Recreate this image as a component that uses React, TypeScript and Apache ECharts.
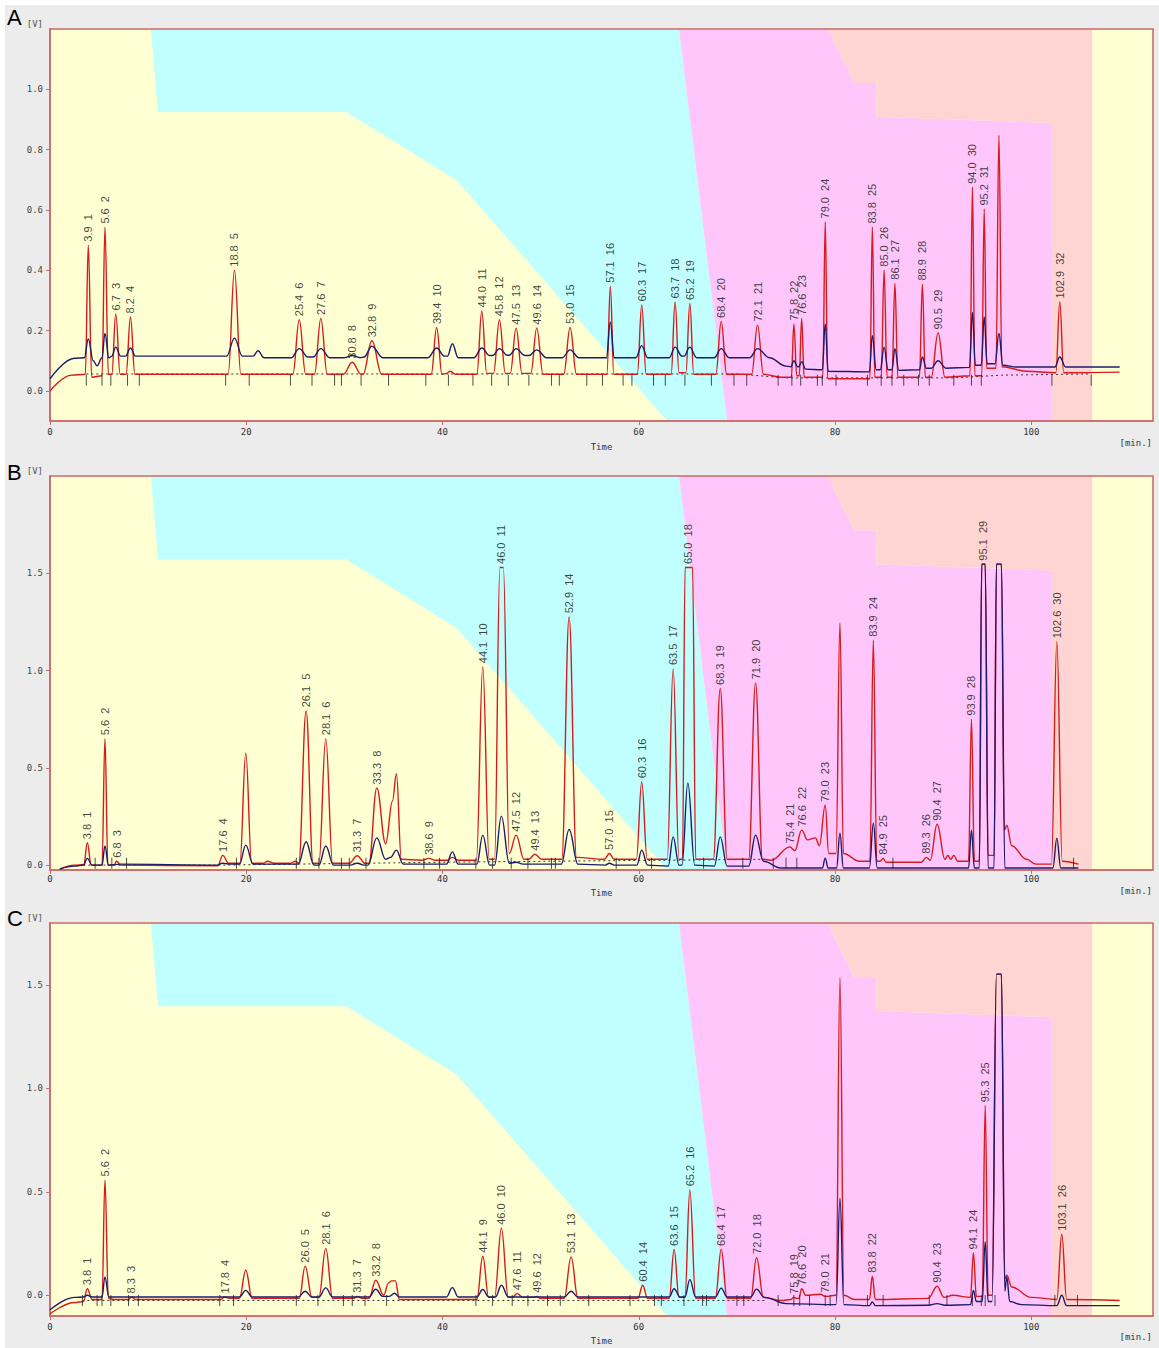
import React, { useEffect, useRef } from "react";
import * as echarts from "echarts";

// ---------- axes ----------
const X_MAX = 112.4;
const X_TICKS = [0, 20, 40, 60, 80, 100];
const Y_TICKS_A = [0, 0.2, 0.4, 0.6, 0.8, 1.0];
const Y_TICKS_B = [0, 0.5, 1.0, 1.5];
const Y_TICKS_C = [0, 0.5, 1.0, 1.5];
const Y_RANGE_A = [-0.1, 1.2];
const Y_RANGE_B = [-0.025, 2.0];
const Y_RANGE_C = [-0.1, 1.8];
const LETTERS = ["A", "B", "C"];

// ---------- gradient program background (minutes, fraction of plot height) ----------
const BG_YELLOW = [[0, 1], [112.4, 1], [112.4, 0], [0, 0]];
const BG_CYAN = [[10.28, 1], [11.0, 0.788], [30.2, 0.788], [41.4, 0.615], [62.9, 0], [69.0, 0], [64.1, 1]];
const BG_MAGENTA = [[64.1, 1], [69.0, 0], [102.1, 0], [102.1, 0.76], [84.2, 0.776], [84.2, 0.862], [81.95, 0.862], [79.2, 1]];
const BG_SALMON = [[79.2, 1], [81.95, 0.862], [84.2, 0.862], [84.2, 0.776], [102.1, 0.76], [102.1, 0], [106.2, 0], [106.2, 1]];

// ---------- panel A ----------
const RED_A = [
  [0, 0], [2.2, 0.052], [3.6, 0.055], [3.9, 0.483], [4.25, 0.045], [5.3, 0.05], [5.6, 0.543], [5.95, 0.055], [6.3, 0.055], [6.7, 0.255], [7.15, 0.055], [7.75, 0.055], [8.2, 0.245], [8.65, 0.055],
  [18.15, 0.055], [18.8, 0.4], [19.45, 0.055],
  [24.75, 0.055], [25.4, 0.236], [26.05, 0.055], [26.95, 0.055], [27.6, 0.24], [28.25, 0.055],
  [29.9, 0.055], [30.8, 0.095], [31.7, 0.055], [31.9, 0.055], [32.8, 0.166], [33.8, 0.055],
  [38.85, 0.055], [39.4, 0.21], [39.95, 0.055], [40.4, 0.058], [40.8, 0.065], [41.3, 0.055],
  [43.5, 0.055], [44.0, 0.265], [44.5, 0.058], [45.2, 0.058], [45.8, 0.236], [46.4, 0.058], [46.9, 0.058], [47.5, 0.208], [48.1, 0.058], [49.0, 0.058], [49.6, 0.208], [50.25, 0.055],
  [52.35, 0.055], [53.0, 0.21], [53.65, 0.055],
  [56.75, 0.055], [57.1, 0.347], [57.45, 0.055],
  [59.85, 0.055], [60.3, 0.285], [60.75, 0.055],
  [63.3, 0.055], [63.7, 0.295], [64.1, 0.06], [64.8, 0.06], [65.2, 0.29], [65.6, 0.055],
  [67.85, 0.055], [68.4, 0.23], [68.95, 0.055],
  [71.5, 0.055], [72.1, 0.218], [72.7, 0.055], [74.5, 0.045],
  [75.55, 0.045], [75.8, 0.222], [76.1, 0.05], [76.35, 0.05], [76.6, 0.24], [76.85, 0.045],
  [78.75, 0.045], [79.0, 0.56], [79.25, 0.04],
  [83.55, 0.04], [83.8, 0.543], [84.05, 0.045], [84.7, 0.045], [85.0, 0.40], [85.3, 0.045], [85.8, 0.045], [86.1, 0.357], [86.4, 0.045],
  [88.6, 0.045], [88.9, 0.354], [89.2, 0.045], [89.8, 0.045], [90.5, 0.192], [91.2, 0.045],
  [93.75, 0.05], [94.0, 0.675], [94.25, 0.05], [94.95, 0.05], [95.2, 0.603], [95.45, 0.075], [96.4, 0.075], [96.7, 0.848], [97.0, 0.08], [99.5, 0.065],
  [102.5, 0.06], [102.9, 0.295], [103.3, 0.06], [109.0, 0.062],
];
const BLUE_A = [
  [0, 0.04], [2.5, 0.108], [3.5, 0.11], [3.9, 0.172], [4.4, 0.1], [4.8, 0.083], [5.3, 0.11], [5.6, 0.19], [6.0, 0.11], [6.3, 0.115], [6.7, 0.145], [7.2, 0.115], [7.7, 0.115], [8.2, 0.142], [8.7, 0.115],
  [18.0, 0.115], [18.8, 0.175], [19.6, 0.115], [20.7, 0.115], [21.2, 0.133], [21.8, 0.11],
  [24.6, 0.11], [25.4, 0.14], [26.3, 0.112], [26.8, 0.112], [27.6, 0.14], [28.5, 0.11],
  [30.0, 0.11], [30.8, 0.117], [31.6, 0.11], [32.0, 0.112], [32.8, 0.148], [33.9, 0.11],
  [38.5, 0.11], [39.4, 0.142], [40.2, 0.115], [40.5, 0.115], [41.0, 0.156], [41.6, 0.11],
  [43.2, 0.11], [44.0, 0.142], [44.8, 0.117], [45.1, 0.117], [45.8, 0.14], [46.6, 0.118], [46.8, 0.118], [47.5, 0.14], [48.4, 0.117], [48.8, 0.117], [49.6, 0.136], [50.6, 0.11],
  [52.2, 0.11], [53.0, 0.136], [53.9, 0.11],
  [56.7, 0.11], [57.1, 0.228], [57.5, 0.11],
  [59.7, 0.11], [60.3, 0.15], [60.9, 0.11],
  [63.1, 0.11], [63.7, 0.145], [64.4, 0.115], [64.6, 0.115], [65.2, 0.145], [65.9, 0.11],
  [67.7, 0.11], [68.4, 0.14], [69.2, 0.11],
  [71.3, 0.11], [72.1, 0.14], [73.3, 0.11], [75.0, 0.082],
  [75.5, 0.08], [75.8, 0.1], [76.2, 0.08], [76.3, 0.08], [76.6, 0.097], [77.0, 0.072],
  [78.7, 0.07], [79.0, 0.222], [79.3, 0.065],
  [83.5, 0.063], [83.8, 0.183], [84.2, 0.07], [84.6, 0.07], [85.0, 0.145], [85.4, 0.07], [85.8, 0.07], [86.1, 0.14], [86.5, 0.068],
  [88.6, 0.07], [88.9, 0.112], [89.3, 0.075], [89.8, 0.075], [90.5, 0.1], [91.3, 0.075],
  [93.7, 0.078], [94.0, 0.26], [94.3, 0.085], [94.9, 0.085], [95.2, 0.245], [95.5, 0.09], [96.3, 0.09], [96.7, 0.19], [97.1, 0.085], [98.5, 0.079],
  [102.4, 0.079], [102.9, 0.112], [103.5, 0.079], [109.0, 0.079],
];
const DOT_A = [[3.7, 0.056], [70, 0.056], [75, 0.043], [92, 0.043], [97, 0.052], [106, 0.056]];
const TICK_T_A = [3.7, 5.3, 6.2, 7.9, 9.1, 17.9, 20.3, 24.5, 26.7, 29.0, 29.7, 31.7, 34.5, 38.3, 40.6, 43.1, 45.0, 46.7, 48.8, 51.1, 51.9, 54.7, 56.3, 58.4, 59.3, 61.5, 62.7, 64.7, 67.4, 69.7, 71.0, 74.2, 75.6, 76.5, 78.2, 78.7, 80.1, 83.3, 84.7, 85.8, 87.0, 88.5, 89.6, 92.1, 93.9, 94.9, 102.1, 106.1];
const TICK_LEVEL_A = 0.035;
const PEAK_T_A = [3.9, 5.6, 6.7, 8.2, 18.8, 25.4, 27.6, 30.8, 32.8, 39.4, 44.0, 45.8, 47.5, 49.6, 53.0, 57.1, 60.3, 63.7, 65.2, 68.4, 72.1, 75.8, 76.6, 79.0, 83.8, 85.0, 86.1, 88.9, 90.5, 94.0, 95.2, 102.9];

// ---------- panel B ----------
const RED_B = [
  [1.0, -0.02], [2.5, 0.0], [3.45, 0.003], [3.8, 0.115], [4.2, 0.0], [5.3, 0.0], [5.6, 0.65], [5.9, 0.0], [6.5, 0.0], [6.8, 0.02], [7.2, 0.0],
  [17.1, -0.003], [17.6, 0.05], [18.2, 0.01], [19.35, 0.01], [19.95, 0.575], [20.55, 0.01], [21.7, 0.01], [22.2, 0.02], [22.8, 0.01], [24.5, 0.01], [25.0, 0.02], [25.35, 0.01], [26.1, 0.793], [26.8, 0.01], [27.4, 0.01], [28.1, 0.65], [28.8, 0.01],
  [30.5, 0.01], [31.3, 0.048], [32.1, 0.01], [32.5, 0.01], [33.3, 0.397], [34.2, 0.11], [34.9, 0.33], [35.3, 0.47], [35.8, 0.03],
  [37.9, 0.025], [38.6, 0.035], [39.3, 0.025], [40.5, 0.025], [41.0, 0.04], [41.6, 0.025],
  [43.45, 0.025], [44.1, 1.02], [44.75, 0.03], [45.3, 0.03], [45.85, 1.53], [46.2, 1.53], [46.8, 0.06], [47.5, 0.154], [48.3, 0.03], [48.8, 0.03], [49.4, 0.056], [50.1, 0.03],
  [52.15, 0.03], [52.9, 1.276], [53.65, 0.04], [56.5, 0.03], [57.0, 0.06], [57.5, 0.03],
  [59.75, 0.03], [60.3, 0.428], [60.85, 0.03], [62.9, 0.03], [63.5, 1.01], [64.1, 0.03], [64.45, 0.03], [64.72, 1.53], [65.48, 1.53], [65.8, 0.03],
  [67.6, 0.03], [68.3, 0.908], [69.0, 0.03], [71.2, 0.03], [71.9, 0.937], [72.6, 0.03], [73.5, 0.025],
  [75.4, 0.094], [75.9, 0.075], [76.6, 0.18], [77.2, 0.13], [78.0, 0.14], [78.4, 0.1], [79.0, 0.308], [79.35, 0.06], [80.1, 0.06], [80.5, 1.245], [80.85, 0.06], [82.5, 0.02],
  [83.55, 0.02], [83.9, 1.156], [84.25, 0.02], [84.6, 0.02], [84.9, 0.035], [85.2, 0.015],
  [88.8, 0.015], [89.3, 0.04], [89.7, 0.025], [90.4, 0.21], [91.2, 0.03], [91.5, 0.05], [91.8, 0.03], [92.1, 0.05], [92.5, 0.02],
  [93.6, 0.02], [93.9, 0.75], [94.2, 0.02], [94.7, 0.02], [94.95, 1.547], [95.3, 1.547], [95.6, 0.05], [96.2, 0.05], [96.45, 1.547], [96.95, 1.547], [97.25, 0.18], [97.5, 0.205], [98.0, 0.1], [99.5, 0.03], [100.5, 0.005],
  [102.05, 0.005], [102.6, 1.148], [103.15, 0.02], [104.8, 0.005],
];
const BLUE_B = [
  [1.0, -0.02], [2.5, -0.005], [3.4, 0.0], [3.8, 0.035], [4.3, 0.0], [5.3, 0.0], [5.6, 0.098], [5.95, 0.0], [7.2, 0.005],
  [17.0, 0.0], [17.6, 0.01], [18.3, 0.005], [19.3, 0.005], [19.95, 0.103], [20.7, 0.005],
  [25.3, 0.005], [26.1, 0.12], [26.9, 0.0], [27.4, 0.0], [28.1, 0.098], [28.9, 0.0],
  [30.6, 0.0], [31.3, 0.01], [32.0, 0.0], [32.4, 0.0], [33.3, 0.14], [34.2, 0.03], [34.7, 0.04], [35.3, 0.077], [36.0, 0.005],
  [40.4, 0.005], [41.0, 0.068], [41.6, 0.005],
  [43.5, 0.005], [44.1, 0.154], [44.8, 0.0], [45.3, 0.0], [46.0, 0.252], [46.8, 0.01], [47.5, 0.015], [48.2, 0.005],
  [52.1, 0.005], [52.9, 0.183], [53.8, 0.005], [56.6, 0.0], [57.0, 0.01], [57.5, 0.0],
  [59.8, 0.0], [60.3, 0.077], [60.9, 0.0], [63.0, -0.005], [63.5, 0.145], [64.1, 0.0], [64.4, 0.0], [65.0, 0.423], [65.7, 0.0],
  [67.7, -0.005], [68.3, 0.145], [69.0, -0.005], [71.2, -0.005], [71.9, 0.154], [72.7, 0.02], [74.5, -0.015],
  [78.7, -0.015], [79.0, 0.036], [79.3, -0.015], [80.15, -0.015], [80.5, 0.164], [80.85, -0.015],
  [83.5, -0.015], [83.9, 0.216], [84.3, -0.015],
  [93.6, -0.015], [93.9, 0.18], [94.2, -0.015], [94.7, -0.015], [94.95, 1.547], [95.3, 1.547], [95.6, -0.015], [96.2, -0.015], [96.45, 1.547], [96.95, 1.547], [97.3, -0.015],
  [102.2, -0.015], [102.6, 0.139], [103.0, -0.015], [104.8, -0.015],
];
const DOT_B = [[3.4, 0.0], [17, 0.0], [40, 0.015], [73, 0.03]];
const TICK_T_B = [4.6, 6.3, 7.8, 19.0, 25.1, 27.4, 29.7, 30.5, 32.2, 38.1, 39.7, 43.4, 45.1, 47.0, 48.7, 51.1, 51.5, 57.7, 61.3, 66.6, 70.6, 73.7, 75.0, 76.1, 85.9, 104.3];
const TICK_LEVEL_B = 0.01;
const PEAK_T_B = [3.8, 5.6, 6.8, 17.6, 26.1, 28.1, 31.3, 33.3, 38.6, 44.1, 46.0, 47.5, 49.4, 52.9, 57.0, 60.3, 63.5, 65.0, 68.3, 71.9, 75.4, 76.6, 79.0, 83.9, 84.9, 89.3, 90.4, 93.9, 95.1, 102.6];

// ---------- panel C ----------
const RED_C = [
  [0, -0.09], [2.5, -0.035], [3.4, -0.03], [3.8, 0.032], [4.3, -0.02], [5.3, -0.02], [5.6, 0.558], [5.95, -0.015], [6.5, -0.02], [8.0, -0.02], [8.3, -0.008], [8.7, -0.02],
  [17.4, -0.02], [17.8, -0.008], [18.3, -0.015], [19.3, -0.015], [19.95, 0.121], [20.6, -0.015], [25.4, -0.015], [26.0, 0.141], [26.7, -0.01], [27.4, -0.01], [28.1, 0.227], [28.8, -0.015],
  [30.9, -0.015], [31.3, -0.005], [31.8, -0.015], [32.5, -0.015], [33.2, 0.073], [34.0, 0.0], [34.5, 0.06], [34.8, 0.07], [35.2, 0.07], [35.6, -0.02],
  [43.5, -0.02], [44.1, 0.189], [44.7, -0.01], [45.3, -0.01], [46.0, 0.324], [46.7, -0.01], [47.1, -0.01], [47.6, 0.008], [48.2, -0.01], [49.3, -0.01], [49.6, -0.005], [50.0, -0.015],
  [52.4, -0.015], [53.1, 0.186], [53.8, -0.015], [59.9, -0.015], [60.4, 0.049], [60.9, -0.015],
  [63.1, -0.015], [63.6, 0.222], [64.1, -0.01], [64.7, -0.01], [65.2, 0.51], [65.8, -0.015],
  [67.8, -0.015], [68.4, 0.222], [69.0, -0.015], [71.4, -0.015], [72.0, 0.183], [72.7, -0.01], [74.5, -0.025],
  [75.5, -0.02], [75.8, -0.01], [76.1, -0.015], [76.3, -0.015], [76.6, 0.032], [77.0, 0.0], [78.5, 0.005], [79.0, -0.005], [80.1, 0.0], [80.5, 1.537], [80.9, 0.0], [82.0, -0.02],
  [83.5, -0.02], [83.8, 0.092], [84.1, -0.02],
  [89.5, -0.015], [90.4, 0.044], [91.1, -0.01], [92.0, 0.0], [93.8, -0.01], [94.1, 0.205], [94.4, -0.005], [95.0, -0.005], [95.3, 0.917], [95.6, 0.0], [96.0, 0.0], [96.45, 1.553], [96.95, 1.553], [97.3, 0.08], [97.5, 0.097], [98.0, 0.04], [100.0, -0.01],
  [102.6, -0.02], [103.1, 0.295], [103.6, -0.02], [109.0, -0.025],
];
const BLUE_C = [
  [0, -0.07], [2.5, -0.01], [3.4, -0.008], [3.8, 0.0], [4.3, -0.008], [5.3, -0.008], [5.6, 0.089], [6.0, -0.008],
  [19.3, -0.008], [19.95, 0.024], [20.6, -0.008], [25.3, -0.008], [26.0, 0.02], [26.7, -0.008], [27.4, -0.008], [28.1, 0.036], [28.8, -0.008],
  [32.5, -0.008], [33.2, 0.029], [33.9, -0.005], [34.6, -0.005], [35.1, 0.01], [35.6, -0.008],
  [40.4, -0.008], [41.0, 0.037], [41.6, -0.008], [43.5, -0.008], [44.1, 0.028], [44.7, -0.008], [45.4, -0.008], [46.0, 0.049], [46.7, -0.008],
  [52.4, -0.008], [53.1, 0.02], [53.8, -0.008],
  [63.1, -0.008], [63.6, 0.032], [64.2, -0.008], [64.7, -0.008], [65.2, 0.076], [65.8, -0.008],
  [67.8, -0.008], [68.4, 0.035], [69.0, -0.008], [71.4, -0.008], [72.0, 0.03], [72.8, -0.01], [75.0, -0.04],
  [80.1, -0.045], [80.5, 0.47], [80.9, -0.045],
  [83.5, -0.05], [83.8, -0.032], [84.1, -0.05],
  [89.5, -0.048], [90.4, -0.04], [91.2, -0.048], [93.8, -0.045], [94.1, 0.024], [94.4, -0.03], [95.0, -0.03], [95.3, 0.259], [95.6, -0.03], [96.0, -0.03], [96.45, 1.553], [96.95, 1.553], [97.3, 0.02], [97.5, 0.089], [97.8, -0.03], [99.0, -0.045],
  [102.6, -0.05], [103.1, 0.0], [103.6, -0.05], [109.0, -0.05],
];
const DOT_C = [[3.3, -0.025], [73, -0.025]];
const TICK_T_C = [3.3, 4.8, 5.3, 6.2, 8.0, 9.0, 17.3, 18.7, 25.1, 27.3, 29.9, 30.8, 32.1, 34.3, 43.4, 45.1, 47.1, 48.7, 50.7, 52.0, 54.9, 59.1, 61.6, 62.3, 64.6, 66.5, 66.9, 70.0, 70.7, 74.2, 75.8, 76.4, 77.4, 79.0, 79.5, 83.3, 84.9, 89.6, 91.4, 94.0, 94.9, 95.3, 96.3, 102.4, 104.7];
const TICK_LEVEL_C = -0.025;
const PEAK_T_C = [3.8, 5.6, 8.3, 17.8, 26.0, 28.1, 31.3, 33.2, 44.1, 46.0, 47.6, 49.6, 53.1, 60.4, 63.6, 65.2, 68.4, 72.0, 75.8, 76.6, 79.0, 83.8, 90.4, 94.1, 95.3, 103.1];

// ---------- styling / layout ----------
const RED = "#d41c1c";
const BLUE = "#1c1c6e";
const BORDER = "#cd6a6a";
const MONO = "DejaVu Sans Mono";
const SANS = "Liberation Sans";

const BG_SHAPES = [
  { pts: BG_YELLOW, color: "#ffffd4" },
  { pts: BG_CYAN, color: "#c1ffff" },
  { pts: BG_MAGENTA, color: "#fec6fb" },
  { pts: BG_SALMON, color: "#ffd5d3" },
];

const PANELS = [
  { red: RED_A, blue: BLUE_A, dot: DOT_A, ticks: TICK_T_A, tickLevel: TICK_LEVEL_A, peaks: PEAK_T_A, yRange: Y_RANGE_A, yTicks: Y_TICKS_A },
  { red: RED_B, blue: BLUE_B, dot: DOT_B, ticks: TICK_T_B, tickLevel: TICK_LEVEL_B, peaks: PEAK_T_B, yRange: Y_RANGE_B, yTicks: Y_TICKS_B },
  { red: RED_C, blue: BLUE_C, dot: DOT_C, ticks: TICK_T_C, tickLevel: TICK_LEVEL_C, peaks: PEAK_T_C, yRange: Y_RANGE_C, yTicks: Y_TICKS_C },
];

const LAYOUT = [
  { top: 24, height: 392, letterY: 12, minY: 438, nameGap: 21, labelMargin: 6 },
  { top: 471, height: 394, letterY: 467, minY: 886, nameGap: 18, labelMargin: 4 },
  { top: 918, height: 393, letterY: 913, minY: 1332, nameGap: 20, labelMargin: 6 },
];

function apexOf(trace: number[][], t: number): number {
  let best = -Infinity;
  for (const p of trace) {
    if (Math.abs(p[0] - t) <= 0.3 && p[1] > best) best = p[1];
  }
  return best === -Infinity ? 0 : best;
}

function buildOption(): any {
  const grid: any[] = [];
  const xAxis: any[] = [];
  const yAxis: any[] = [];
  const series: any[] = [];
  const graphic: any[] = [];

  PANELS.forEach((pn, p) => {
    const l = LAYOUT[p];
    grid.push({
      left: 45, top: l.top, width: 1103, height: l.height,
      show: true, backgroundColor: "transparent", borderColor: BORDER, borderWidth: 1.6,
    });
    xAxis.push({
      type: "value", gridIndex: p, min: 0, max: X_MAX,
      axisLine: { show: true, onZero: false, lineStyle: { color: BORDER, width: 1.6 } },
      axisTick: { show: true, customValues: X_TICKS, length: 4, lineStyle: { color: BORDER } },
      axisLabel: { customValues: X_TICKS, margin: l.labelMargin, fontFamily: MONO, fontSize: 9, color: "#333" },
      splitLine: { show: false },
      name: "Time", nameLocation: "middle", nameGap: l.nameGap,
      nameTextStyle: { fontFamily: MONO, fontSize: 9, color: "#333" },
    });
    yAxis.push({
      type: "value", gridIndex: p, min: pn.yRange[0], max: pn.yRange[1],
      axisLine: { show: true, onZero: false, lineStyle: { color: BORDER, width: 1.6 } },
      axisTick: { show: true, customValues: pn.yTicks, length: 4, lineStyle: { color: BORDER } },
      axisLabel: {
        customValues: pn.yTicks, margin: 7, fontFamily: MONO, fontSize: 9, color: "#444",
        formatter: (v: number) => Number(v).toFixed(1),
      },
      splitLine: { show: false },
      name: "[V]", nameLocation: "end", nameGap: 1,
      nameTextStyle: { align: "right", verticalAlign: "bottom", padding: [0, 7, 0, 0], fontFamily: MONO, fontSize: 9, color: "#555" },
    });
    yAxis.push({ type: "value", gridIndex: p, min: 0, max: 1, show: false });

    const yData = 2 * p;
    const yBg = 2 * p + 1;

    series.push({
      type: "custom", xAxisIndex: p, yAxisIndex: yBg, z: -1, silent: true, clip: false,
      data: BG_SHAPES.map((s) => s.pts[0]),
      renderItem: (params: any, api: any) => {
        const shp = BG_SHAPES[params.dataIndex];
        return {
          type: "polygon",
          shape: { points: shp.pts.map((pt) => api.coord(pt)) },
          style: { fill: shp.color },
          silent: true,
        };
      },
    });
    series.push({
      type: "line", xAxisIndex: p, yAxisIndex: yData, data: pn.dot, symbol: "none", silent: true,
      lineStyle: { color: "#333", width: 1, type: [2, 3] }, z: 2,
    });
    series.push({
      type: "line", xAxisIndex: p, yAxisIndex: yData, data: pn.red, symbol: "none", showSymbol: false, silent: true,
      smooth: 0.4, smoothMonotone: "x", lineStyle: { color: RED, width: 1.4 }, z: 3,
    });
    series.push({
      type: "line", xAxisIndex: p, yAxisIndex: yData, data: pn.blue, symbol: "none", showSymbol: false, silent: true,
      smooth: 0.4, smoothMonotone: "x", lineStyle: { color: BLUE, width: 1.4 }, z: 4,
    });
    series.push({
      type: "scatter", xAxisIndex: p, yAxisIndex: yData, silent: true,
      data: pn.ticks.map((t) => [t, pn.tickLevel]),
      symbol: "rect", symbolSize: [1, 11], itemStyle: { color: "#222" }, z: 5,
    });
    series.push({
      type: "scatter", xAxisIndex: p, yAxisIndex: yData, silent: true, clip: false,
      data: pn.peaks.map((t, i) => [t, apexOf(pn.red, t), `${t.toFixed(1)}  ${i + 1}`]),
      symbolSize: 1, itemStyle: { color: "rgba(0,0,0,0)" }, z: 6,
      label: {
        show: true, position: "top", distance: 3, rotate: 90, align: "left", verticalAlign: "middle",
        formatter: (prm: any) => prm.value[2],
        fontFamily: SANS, fontSize: 11, color: "#111",
      },
    });

    graphic.push({
      type: "text", x: 2, y: l.letterY, z: 10,
      style: { text: LETTERS[p], fontFamily: SANS, fontSize: 22, fill: "#000", align: "left", verticalAlign: "middle" },
    });
    graphic.push({
      type: "text", x: 1147, y: l.minY, z: 10,
      style: { text: "[min.]", fontFamily: MONO, fontSize: 9, fill: "#333", align: "right", verticalAlign: "middle" },
    });
  });

  return {
    animation: false,
    backgroundColor: "#ececec",
    grid, xAxis, yAxis, series, graphic,
  };
}

export default function App() {
  const ref = useRef<HTMLDivElement>(null);
  useEffect(() => {
    if (!ref.current) return;
    const chart = echarts.init(ref.current, null, { renderer: "svg" });
    chart.setOption(buildOption());
    return () => chart.dispose();
  }, []);
  return (
    <div style={{ position: "absolute", left: 0, top: 0, width: 1159, height: 1348, background: "#fff" }}>
      <div ref={ref} style={{ position: "absolute", left: 5, top: 5, width: 1154, height: 1343 }} />
    </div>
  );
}
